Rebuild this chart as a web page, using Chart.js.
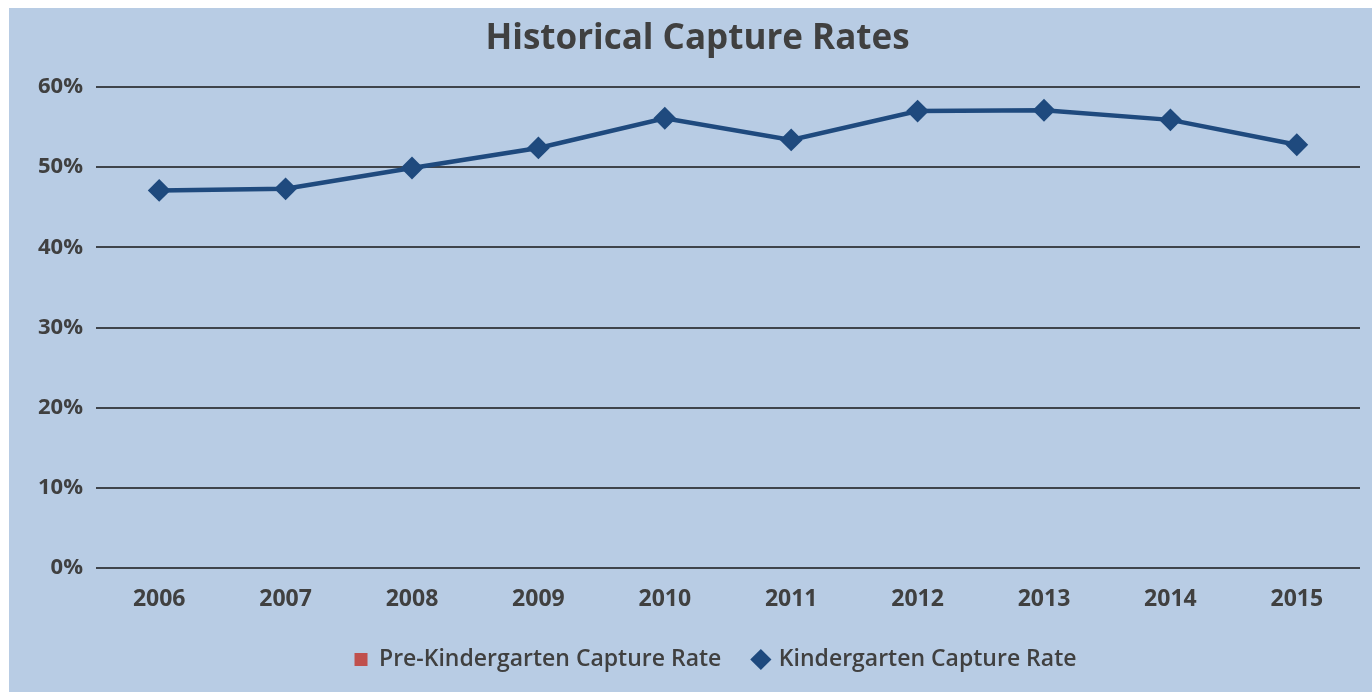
<!DOCTYPE html>
<html>
<head>
<meta charset="utf-8">
<script src="https://cdn.jsdelivr.net/npm/chart.js@4.4.1/dist/chart.umd.min.js"></script>
<style>
  html, body { margin: 0; padding: 0; background: #ffffff; }
  #wrap { position: absolute; left: 9px; top: 8px; width: 1363px; height: 684px; background: #B8CCE4; }
  canvas { display: block; }
</style>
</head>
<body>
<div id="wrap"><canvas id="c" width="1363" height="684"></canvas></div>
<script>
const years = ['2006','2007','2008','2009','2010','2011','2012','2013','2014','2015'];
const preKRate = [null, null, null, null, null, null, null, null, null, null];
const kRate = [0.471, 0.473, 0.499, 0.524, 0.561, 0.534, 0.570, 0.571, 0.559, 0.528];
const yTicks = [0, 0.1, 0.2, 0.3, 0.4, 0.5, 0.6];

const textColor = '#404040';
const fontFam = '"Open Sans", Lato, sans-serif';

const legendShift = {
  id: 'legendShift',
  afterLayout(chart) {
    if (chart.legend) { chart.legend.left += 36; }
  }
};

new Chart(document.getElementById('c'), {
  type: 'line',
  data: {
    labels: years,
    datasets: [
      {
        label: 'Pre-Kindergarten Capture Rate',
        data: preKRate,
        borderColor: '#C0504D',
        backgroundColor: '#C0504D',
        pointStyle: 'rect',
        pointRadius: 9,
        pointBorderWidth: 0,
        borderWidth: 3
      },
      {
        label: 'Kindergarten Capture Rate',
        data: kRate,
        borderColor: '#1F4A7E',
        backgroundColor: '#1F4A7E',
        pointBackgroundColor: '#1F4A7E',
        pointBorderColor: '#1F4A7E',
        pointStyle: 'rectRot',
        pointRadius: 10,
        pointBorderWidth: 2,
        borderWidth: 4.5,
        tension: 0
      }
    ]
  },
  plugins: [legendShift],
  options: {
    responsive: false,
    animation: false,
    devicePixelRatio: 1,
    layout: { padding: { left: 26, right: 12, top: 0, bottom: 11 } },
    plugins: {
      title: {
        display: true,
        text: 'Historical Capture Rates',
        color: textColor,
        font: { family: fontFam, size: 35, weight: 'bold' },
        padding: { top: 10, bottom: 27 }
      },
      legend: {
        position: 'bottom',
        labels: {
          color: textColor,
          font: { family: fontFam, size: 23, weight: '600' },
          usePointStyle: true,
          boxWidth: 13,
          boxHeight: 13,
          padding: 33
        }
      },
      tooltip: { enabled: false }
    },
    scales: {
      x: {
        offset: true,
        grid: { display: false, drawTicks: false },
        border: { display: false },
        ticks: {
          color: textColor,
          font: { family: fontFam, size: 23, weight: 'bold' },
          padding: 18,
          maxRotation: 0
        },
        afterFit(scale) { scale.height = 47; }
      },
      y: {
        min: 0,
        max: 0.6,
        afterBuildTicks(scale) { scale.ticks = yTicks.map(v => ({ value: v })); },
        grid: { color: '#3f444b', lineWidth: 2, drawTicks: false },
        border: { display: false },
        ticks: {
          color: textColor,
          font: { family: fontFam, size: 22, weight: 'bold' },
          padding: 13,
          callback: v => Math.round(v * 100) + '%'
        },
        afterFit(scale) { scale.width = 61; }
      }
    }
  }
});
</script>
</body>
</html>
